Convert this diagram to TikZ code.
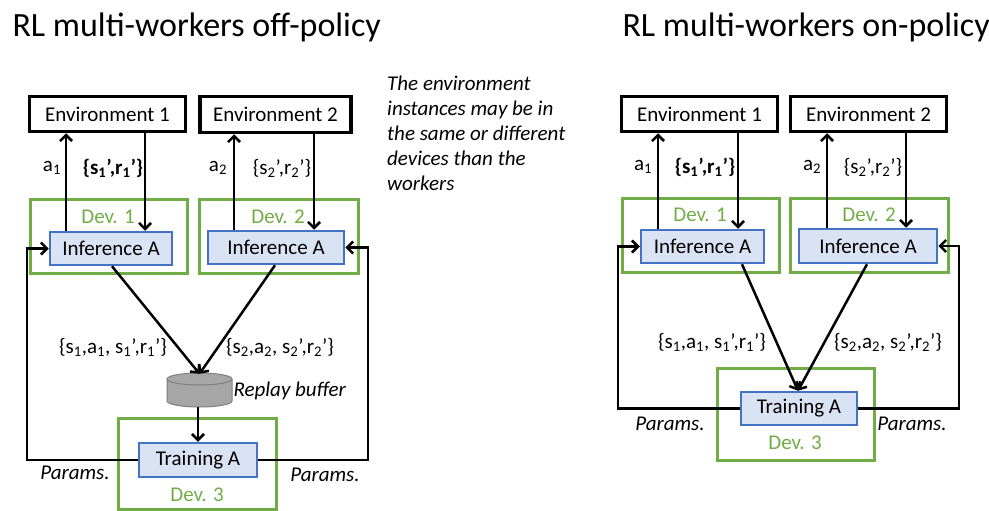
\documentclass[tikz,border=0pt]{standalone}
\usepackage{fontspec}
\setmainfont{Carlito}
\usetikzlibrary{arrows.meta}
\definecolor{devgreen}{HTML}{70AD47}
\definecolor{procblue}{HTML}{4472C4}
\definecolor{procfill}{HTML}{DAE3F3}
\definecolor{cylfill}{HTML}{A6A6A6}
\definecolor{cyledge}{HTML}{7F7F7F}
\newcommand{\sbs}[1]{\textsubscript{#1}}
\tikzset{
  envbox/.style={draw=black, line width=3.5pt, fill=white, inner sep=0pt, minimum width=156pt, minimum height=35pt},
  devbox/.style={draw=devgreen, line width=3pt, inner sep=0pt},
  procbox/.style={draw=procblue, line width=2.5pt, fill=procfill, inner sep=0pt, minimum height=33pt},
  devlabel/.style={text=devgreen},
  arr/.style={line width=2.5pt, -{Straight Barb[length=6pt,width=12pt,line width=2.5pt]}},
  title/.style={font=\fontsize{34}{40}\selectfont, anchor=base west},
  note/.style={font=\fontsize{21}{25}\selectfont\itshape, align=left, anchor=north west, inner sep=0pt},
  itl/.style={font=\fontsize{21}{25}\selectfont\itshape},
}
\begin{document}
\begin{tikzpicture}[x=1pt, y=-1pt, font=\fontsize{21}{25}\selectfont]
\useasboundingbox (0,0) rectangle (989,511);

% ---------------- off-policy ----------------
\node[title] (t1) at (9,37) {RL multi-workers off-policy};

\node[devbox, minimum width=157pt, minimum height=74pt] (d1) at (108.5,236) {};
\node[devbox, minimum width=159pt, minimum height=74pt] (d2) at (278.5,236) {};
\node[devbox, minimum width=158pt, minimum height=91pt] (d3) at (197,463.5) {};

\node[envbox] (e1) at (107.5,114) {Environment 1};
\node[envbox, minimum width=151pt, minimum height=36pt] (e2) at (275.5,114.5) {Environment 2};

\node[procbox, minimum width=122pt] (i1) at (111,248.5) {Inference A};
\node[procbox, minimum width=136pt] (i2) at (276,247.5) {Inference A};
\node[procbox, minimum width=118pt, minimum height=34pt] (tr) at (198,460) {Training A};

% replay buffer cylinder
\node[inner sep=0pt, minimum width=65pt, minimum height=34pt] (rb) at (199.5,390) {};
\filldraw[fill=cylfill, draw=cyledge, line width=1pt]
  (167,379) -- (167,401) arc[start angle=180, end angle=0, x radius=32.5, y radius=6]
  -- (232,379) arc[start angle=0, end angle=-180, x radius=32.5, y radius=6] -- cycle;
\draw[cyledge, line width=1pt] (167,379) arc[start angle=180, end angle=0, x radius=32.5, y radius=6];
\node[itl, anchor=west] (rbl) at (230,391) {Replay buffer};

\node[devlabel] (d1l) at (108,217) {Dev. 1};
\node[devlabel] (d2l) at (278,217) {Dev. 2};
\node[devlabel] (d3l) at (197,495) {Dev. 3};

% env <-> inference
\draw[arr] ([xshift=-45pt]i1.north) -- ([xshift=-45pt]i1.north |- e1.south);
\draw[arr] ([xshift=37.5pt]e1.south) -- ([xshift=37.5pt]e1.south |- i1.north);
\draw[arr] ([xshift=-42pt]i2.north) -- ([xshift=-42pt]i2.north |- e2.south);
\draw[arr] ([xshift=38.5pt]e2.south) -- ([xshift=38.5pt]e2.south |- i2.north);

\node (a1) at (52,168) {a\sbs{1}};
\node (o1) at (113,168) {\bfseries\{s\sbs{1}’,r\sbs{1}’\}};
\node (a2) at (218,168) {a\sbs{2}};
\node (o2) at (282,168) {\{s\sbs{2}’,r\sbs{2}’\}};

% experience to replay buffer and training
\draw[arr] ([xshift=1pt]i1.south) -- ([yshift=-1pt]rb.north);
\draw[arr] ([xshift=-1pt]i2.south) -- ([yshift=-1pt]rb.north);
\draw[arr] ([xshift=-1.5pt]rb.south) -- (tr.north);
\node (x1) at (113,347) {\{s\sbs{1},a\sbs{1}, s\sbs{1}’,r\sbs{1}’\}};
\node (x2) at (280,347) {\{s\sbs{2},a\sbs{2}, s\sbs{2}’,r\sbs{2}’\}};

% parameter feedback
\coordinate (lx) at (27,0);
\coordinate (rx) at (368,0);
\draw[arr] (tr.west) -- (tr.west -| lx) |- (i1.west);
\draw[arr] (tr.east) -- (tr.east -| rx) |- (i2.east);
\node[itl] (p1) at (75,473) {Params.};
\node[itl] (p2) at (325,475) {Params.};

% remark
\node[note] (nt) at (387,76) {The environment\\instances may be in\\the same or different\\devices than the\\workers};

% ---------------- on-policy ----------------
\node[title] (t2) at (619,37) {RL multi-workers on-policy};

\node[devbox, minimum width=157pt, minimum height=74pt] (rd1) at (700.5,235) {};
\node[devbox, minimum width=158pt, minimum height=74pt] (rd2) at (869,235) {};
\node[devbox, minimum width=157pt, minimum height=92pt] (rd3) at (795.5,414) {};

\node[envbox] (re1) at (699.5,114) {Environment 1};
\node[envbox] (re2) at (868.5,114) {Environment 2};

\node[procbox, minimum width=123pt] (ri1) at (702.5,246.5) {Inference A};
\node[procbox, minimum width=138pt, minimum height=34pt] (ri2) at (868,246) {Inference A};
\node[procbox, minimum width=116pt] (rtr) at (799,408.5) {Training A};

\node[devlabel] (rd1l) at (700,215) {Dev. 1};
\node[devlabel] (rd2l) at (869,215) {Dev. 2};
\node[devlabel] (rd3l) at (795,443) {Dev. 3};

\draw[arr] ([xshift=-44.5pt]ri1.north) -- ([xshift=-44.5pt]ri1.north |- re1.south);
\draw[arr] ([xshift=38.5pt]re1.south) -- ([xshift=38.5pt]re1.south |- ri1.north);
\draw[arr] ([xshift=-41pt]ri2.north) -- ([xshift=-41pt]ri2.north |- re2.south);
\draw[arr] ([xshift=37.5pt]re2.south) -- ([xshift=37.5pt]re2.south |- ri2.north);

\node (ra1) at (643,167) {a\sbs{1}};
\node (ro1) at (705,167) {\bfseries\{s\sbs{1}’,r\sbs{1}’\}};
\node (ra2) at (812,167) {a\sbs{2}};
\node (ro2) at (873,167) {\{s\sbs{2}’,r\sbs{2}’\}};

\draw[arr] ([xshift=39.5pt]ri1.south) -- ([xshift=-1pt]rtr.north);
\draw[arr] ([xshift=-1pt]ri2.south) -- ([xshift=-1pt]rtr.north);
\node (rx1) at (712,342) {\{s\sbs{1},a\sbs{1}, s\sbs{1}’,r\sbs{1}’\}};
\node (rx2) at (888,342) {\{s\sbs{2},a\sbs{2}, s\sbs{2}’,r\sbs{2}’\}};

\coordinate (rlx) at (618,0);
\coordinate (rrx) at (959,0);
\draw[arr] (rtr.west) -- (rtr.west -| rlx) |- (ri1.west);
\draw[arr] (rtr.east) -- (rtr.east -| rrx) |- (ri2.east);
\node[itl] (rp1) at (670,424) {Params.};
\node[itl] (rp2) at (912,424) {Params.};
\end{tikzpicture}
\end{document}
